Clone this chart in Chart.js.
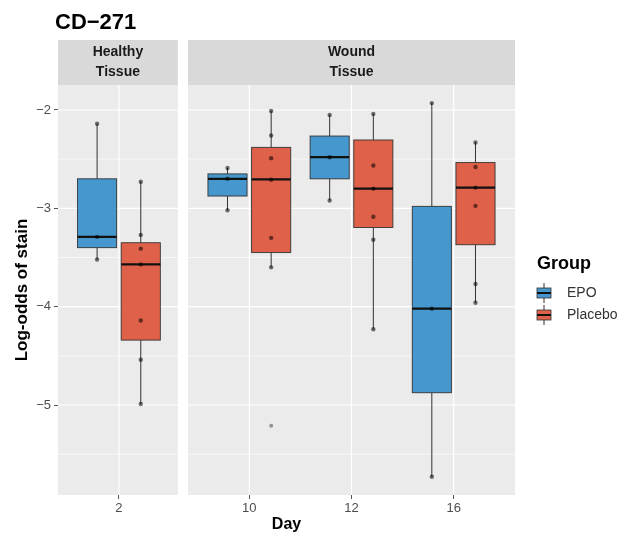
<!DOCTYPE html>
<html lang="en">

<head>
    <meta charset="UTF-8">
    <title>CD-271</title>
    <script src="https://cdn.jsdelivr.net/npm/chart.js"></script>
    <style>
        body { margin: 0; background: #fff; }
        canvas { display: block; }
    </style>
</head>

<body>
    <canvas id="myChart" width="630" height="537"></canvas>
</body>

<script>
    // categories
    var days = ['2', '10', '12', '16'];
    var tissues = ['Healthy\nTissue', 'Wound\nTissue'];
    var dayPanel = [0, 1, 1, 1];
    var groups = ['EPO', 'Placebo'];
    var yTicks = [-5, -4, -3, -2];

    // box statistics (lower whisker, q1, median, q3, upper whisker)
    var epoLo = [-3.52, -3.02, -2.92, -5.73];
    var epoQ1 = [-3.40, -2.875, -2.70, -4.875];
    var epoMed = [-3.29, -2.70, -2.48, -4.02];
    var epoQ3 = [-2.70, -2.65, -2.265, -2.98];
    var epoHi = [-2.14, -2.59, -2.05, -1.93];

    var plaLo = [-4.99, -3.60, -4.23, -3.96];
    var plaQ1 = [-4.34, -3.45, -3.195, -3.37];
    var plaMed = [-3.57, -2.705, -2.80, -2.79];
    var plaQ3 = [-3.35, -2.38, -2.305, -2.535];
    var plaHi = [-2.73, -2.01, -2.04, -2.33];

    // raw points and outliers
    var epoPoints = [[-2.14, -3.29, -3.52], [-2.59, -2.70, -3.02], [-2.05, -2.48, -2.92], [-1.93, -4.02, -5.73]];
    var plaPoints = [[-2.73, -3.27, -3.41, -3.57, -4.14, -4.54, -4.99], [-2.01, -2.26, -2.49, -2.71, -3.30, -3.60],
        [-2.04, -2.565, -2.80, -3.085, -3.32, -4.23], [-2.33, -2.58, -2.79, -2.975, -3.77, -3.96]];
    var plaOutliers = [[], [-5.21], [], []];

    // layout in x-axis units (facet panels side by side on one linear scale)
    var panels = [[0, 1.18], [1.28, 4.5]];
    var dayPos = [0.6, 1.884, 2.89, 3.896];
    var dodge = 0.215;
    var boxW = 0.385;

    var colEPO = '#4597CD';
    var colPla = '#E0614A';
    var fontFam = '"Liberation Sans", Arial, sans-serif';

    function pts(list, off) {
        var out = [];
        list.forEach((vals, i) => {
            vals.forEach(v => out.push({ x: dayPos[i] + off, y: v }));
        });
        return out;
    }

    const facetPlugin = {
        id: 'facets',
        beforeDraw(chart) {
            const ctx = chart.ctx;
            const xs = chart.scales.x, ys = chart.scales.y;
            const top = chart.chartArea.top, bottom = chart.chartArea.bottom;
            ctx.save();
            panels.forEach((p, k) => {
                const l = xs.getPixelForValue(p[0]), r = xs.getPixelForValue(p[1]);
                // panel background
                ctx.fillStyle = '#EBEBEB';
                ctx.fillRect(l, top, r - l, bottom - top);
                // minor grid
                ctx.strokeStyle = '#fff';
                ctx.lineWidth = 0.6;
                [-5.5, -4.5, -3.5, -2.5].forEach(v => {
                    const y = ys.getPixelForValue(v);
                    ctx.beginPath(); ctx.moveTo(l, y); ctx.lineTo(r, y); ctx.stroke();
                });
                // major grid
                ctx.lineWidth = 1.2;
                yTicks.forEach(v => {
                    const y = ys.getPixelForValue(v);
                    ctx.beginPath(); ctx.moveTo(l, y); ctx.lineTo(r, y); ctx.stroke();
                });
                dayPos.forEach((d, i) => {
                    if (dayPanel[i] !== k) return;
                    const x = xs.getPixelForValue(d);
                    ctx.beginPath(); ctx.moveTo(x, top); ctx.lineTo(x, bottom); ctx.stroke();
                });
                // strip
                ctx.fillStyle = '#D9D9D9';
                ctx.fillRect(l, 40, r - l, top - 40);
                ctx.fillStyle = '#1A1A1A';
                ctx.font = 'bold 14px ' + fontFam;
                ctx.textAlign = 'center';
                ctx.textBaseline = 'middle';
                tissues[k].split('\n').forEach((t, j) => ctx.fillText(t, (l + r) / 2, 52 + j * 20));
            });

            // title
            ctx.fillStyle = '#000';
            ctx.font = 'bold 22px ' + fontFam;
            ctx.textAlign = 'left';
            ctx.fillText('CD\u2212271', 55, 23);

            // axis titles
            ctx.font = 'bold 16px ' + fontFam;
            ctx.textAlign = 'center';
            ctx.fillText('Day', (xs.left + xs.right) / 2, 525);
            ctx.save();
            ctx.translate(22, (top + bottom) / 2);
            ctx.rotate(-Math.PI / 2);
            ctx.font = 'bold 17px ' + fontFam;
            ctx.fillText('Log-odds of stain', 0, 0);
            ctx.restore();

            // legend
            ctx.font = 'bold 18px ' + fontFam;
            ctx.textAlign = 'left';
            ctx.fillStyle = '#000';
            ctx.fillText('Group', 537, 264);
            [colEPO, colPla].forEach((c, i) => {
                const cx = 544, cy = 293 + i * 22;
                ctx.strokeStyle = '#333';
                ctx.lineWidth = 1;
                ctx.beginPath(); ctx.moveTo(cx, cy - 10); ctx.lineTo(cx, cy + 10); ctx.stroke();
                ctx.fillStyle = c;
                ctx.fillRect(cx - 7, cy - 5, 14, 10);
                ctx.lineWidth = 0.8;
                ctx.strokeRect(cx - 7, cy - 5, 14, 10);
                ctx.strokeStyle = '#111';
                ctx.lineWidth = 2;
                ctx.beginPath(); ctx.moveTo(cx - 7, cy); ctx.lineTo(cx + 7, cy); ctx.stroke();
                ctx.fillStyle = '#333';
                ctx.font = '14px ' + fontFam;
                ctx.textBaseline = 'middle';
                ctx.fillText(groups[i], 567, cy);
            });
            ctx.restore();
        },
        beforeDatasetsDraw(chart) {
            const ctx = chart.ctx;
            const xs = chart.scales.x, ys = chart.scales.y;
            const sets = [
                [epoLo, epoQ1, epoMed, epoQ3, epoHi, -dodge, colEPO],
                [plaLo, plaQ1, plaMed, plaQ3, plaHi, dodge, colPla]
            ];
            ctx.save();
            sets.forEach(s => {
                days.forEach((d, i) => {
                    const c = dayPos[i] + s[5];
                    const xm = xs.getPixelForValue(c);
                    const x0 = xs.getPixelForValue(c - boxW / 2), x1 = xs.getPixelForValue(c + boxW / 2);
                    const yLo = ys.getPixelForValue(s[0][i]), yQ1 = ys.getPixelForValue(s[1][i]);
                    const yMed = ys.getPixelForValue(s[2][i]), yQ3 = ys.getPixelForValue(s[3][i]);
                    const yHi = ys.getPixelForValue(s[4][i]);
                    ctx.strokeStyle = '#333';
                    ctx.lineWidth = 1;
                    ctx.beginPath();
                    ctx.moveTo(xm, yHi); ctx.lineTo(xm, yQ3);
                    ctx.moveTo(xm, yQ1); ctx.lineTo(xm, yLo);
                    ctx.stroke();
                    ctx.fillStyle = s[6];
                    ctx.fillRect(x0, yQ3, x1 - x0, yQ1 - yQ3);
                    ctx.lineWidth = 0.9;
                    ctx.strokeRect(x0, yQ3, x1 - x0, yQ1 - yQ3);
                    ctx.strokeStyle = '#111';
                    ctx.lineWidth = 2.2;
                    ctx.beginPath(); ctx.moveTo(x0, yMed); ctx.lineTo(x1, yMed); ctx.stroke();
                });
            });
            ctx.restore();
        }
    };

    const ctx = document.getElementById('myChart');

    new Chart(ctx, {
        type: 'scatter',
        data: {
            datasets: [{
                label: 'EPO',
                data: pts(epoPoints, -dodge),
                pointRadius: 2.2,
                pointBackgroundColor: 'rgba(0,0,0,0.55)',
                pointBorderWidth: 0
            }, {
                label: 'Placebo',
                data: pts(plaPoints, dodge),
                pointRadius: 2.2,
                pointBackgroundColor: 'rgba(0,0,0,0.55)',
                pointBorderWidth: 0
            }, {
                label: 'outliers',
                data: pts(plaOutliers, dodge),
                pointRadius: 2,
                pointBackgroundColor: 'rgba(110,110,110,0.7)',
                pointBorderWidth: 0
            }]
        },
        options: {
            responsive: false,
            animation: false,
            layout: { padding: { top: 85, right: 115, left: 0, bottom: 0 } },
            plugins: {
                legend: { display: false },
                tooltip: { enabled: false }
            },
            scales: {
                x: {
                    type: 'linear',
                    min: 0,
                    max: 4.5,
                    afterBuildTicks: (s) => { s.ticks = dayPos.map(v => ({ value: v })); },
                    afterFit: (s) => { s.height = 42; },
                    ticks: {
                        callback: (v, i) => days[i],
                        color: '#4D4D4D',
                        font: { family: fontFam, size: 13 },
                        padding: 2,
                        autoSkip: false,
                        maxRotation: 0
                    },
                    grid: { drawOnChartArea: false, tickLength: 4, color: '#555' },
                    border: { display: false }
                },
                y: {
                    min: -5.915,
                    max: -1.746,
                    afterBuildTicks: (s) => { s.ticks = yTicks.map(v => ({ value: v })); },
                    afterFit: (s) => { s.width = 58; },
                    ticks: {
                        callback: (v) => '\u2212' + Math.abs(v),
                        color: '#4D4D4D',
                        font: { family: fontFam, size: 13 },
                        padding: 3
                    },
                    grid: { drawOnChartArea: false, tickLength: 4, color: '#555' },
                    border: { display: false }
                }
            }
        },
        plugins: [facetPlugin]
    });
</script>

</html>
